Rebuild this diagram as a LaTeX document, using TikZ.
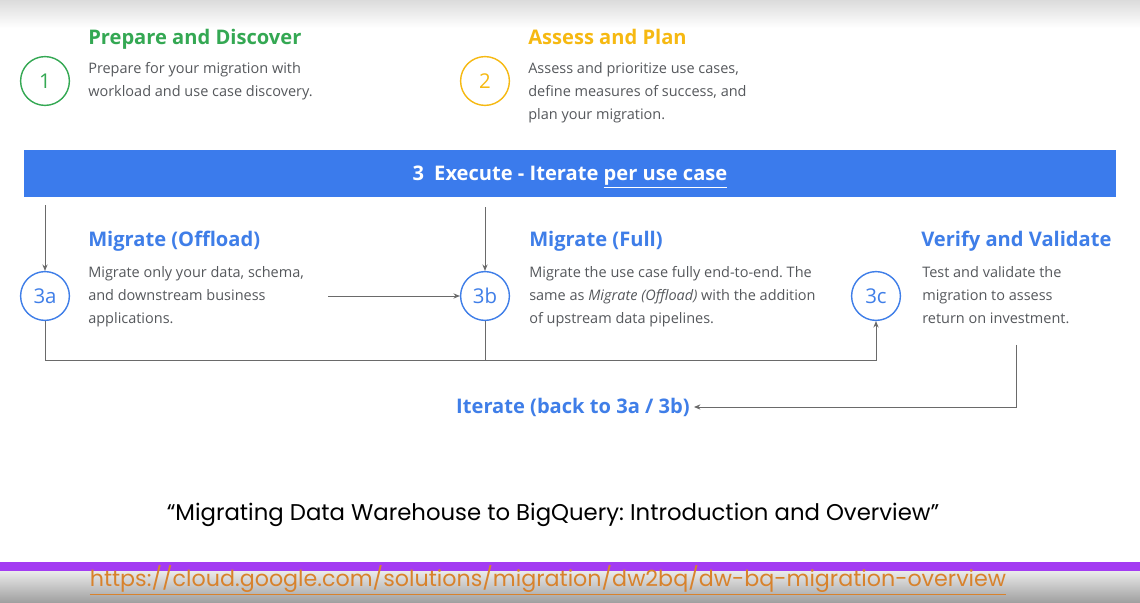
\documentclass[tikz,border=0pt]{standalone}
\usepackage{fontspec}
\setmainfont{Open Sans}
\newfontfamily\gothic{Poppins}
\usepackage{tikz}
\usetikzlibrary{arrows.meta,positioning,calc}
\frenchspacing
\definecolor{ggreen}{HTML}{34A853}
\definecolor{gyellow}{HTML}{F6B912}
\definecolor{gblue}{HTML}{3F7EE8}
\definecolor{barblue}{HTML}{3B7BEC}
\definecolor{body}{HTML}{55585C}
\definecolor{wire}{HTML}{6A6A6A}
\definecolor{violet}{HTML}{A33CF2}
\definecolor{url}{HTML}{D8822C}
\tikzset{
  stepcirc/.style={circle, draw, line width=1pt, minimum size=1.22cm, inner sep=0pt,
                   fill=white, font=\fontsize{14.5}{16}\selectfont},
  head/.style={anchor=base west, inner sep=0pt, font=\bfseries\fontsize{14.3}{16}\selectfont},
  blurb/.style={anchor=north west, inner sep=0pt, align=left, text=body,
                font=\fontsize{10.3}{16.3}\selectfont},
  link/.style={draw=wire, line width=0.7pt},
  arrow/.style={link, -{Stealth[length=1.6mm, width=1.3mm]}}
}

\begin{document}
\begin{tikzpicture}[x=0.025cm,y=-0.025cm]
  \useasboundingbox (0,0) rectangle (1140,603);
  % backdrop
  \fill[white] (0,0) rectangle (1140,603);
  \shade[top color=black!14, bottom color=white] (0,0) rectangle (1140,28);
  \fill[violet] (0,562) rectangle (1140,571);
  \shade[top color=black!8, bottom color=black!38] (0,571) rectangle (1140,603);

  % phase 1 and 2
  \node[stepcirc, draw=ggreen, text=ggreen] (c1) at (45,81) {1};
  \node[head, text=ggreen] (h1) at (88,45) {Prepare and Discover};
  \node[blurb] (b1) at (88,62.5) {Prepare for your migration with\\workload and use case discovery.};

  \node[stepcirc, draw=gyellow, text=gyellow] (c2) at (485,81) {2};
  \node[head, text=gyellow] (h2) at (528,45) {Assess and Plan};
  \node[blurb] (b2) at (528,62.5) {Assess and prioritize use cases,\\define measures of success, and\\plan your migration.};

  % execute bar
  \node[fill=barblue, minimum width=27.3cm, minimum height=1.17cm, text=white,
        text height=10pt, text depth=0pt,
        font=\bfseries\fontsize{14.3}{16}\selectfont] (bar) at (570,173.5)
    {3\enspace Execute - Iterate \underline{per use case}};

  % sub-steps
  \foreach \id/\x/\lab in {c3a/45/3a, c3b/485/3b, c3c/876/3c}
    {\node[stepcirc, draw=gblue, text=gblue] (\id) at (\x,296) {\lab};}
  \node[head, text=gblue] (h3a) at (88,247) {Migrate (Offload)};
  \node[blurb] (b3a) at (88,266) {Migrate only your data, schema,\\and downstream business\\applications.};
  \node[head, text=gblue] (h3b) at (529,247) {Migrate (Full)};
  \node[blurb] (b3b) at (529,266) {Migrate the use case fully end-to-end. The\\same as \textit{Migrate (Offload)} with the addition\\of upstream data pipelines.};
  \node[head, text=gblue] (h3c) at (921,247) {Verify and Validate};
  \node[blurb] (b3c) at (922,266) {Test and validate the\\migration to assess\\return on investment.};

  \node[anchor=east, inner sep=0pt, text=gblue, font=\bfseries\fontsize{14.3}{16}\selectfont]
    (iter) at (690,407) {Iterate (back to 3a / 3b)};

  % connectors
  \coordinate (offl) at (328,296);
  \coordinate (lowrail) at (0,360);
  \coordinate (vfy) at (1016,345);
  \draw[arrow] ($(bar.south -| c3a)+(0,8)$) -- (c3a.north);
  \draw[arrow] ($(bar.south -| c3b)+(0,10)$) -- (c3b.north);
  \draw[arrow] (offl) -- (c3b.west);
  \draw[arrow] (c3a.south) |- (lowrail -| c3c) -- (c3c.south);
  \draw[link] (c3b.south) -- (c3b |- lowrail);
  \draw[arrow] (vfy) |- ($(iter.east)+(4,0)$);

  % caption and link
  \node[font=\gothic\fontsize{16.2}{18}\selectfont] (title) at (553,515)
    {“Migrating Data Warehouse to BigQuery: Introduction and Overview”};
  \node[font=\gothic\fontsize{15.8}{16}\selectfont, text=url] (link) at (548,580)
    {\underline{https://cloud.google.com/solutions/migration/dw2bq/dw-bq-migration-overview}};
\end{tikzpicture}
\end{document}
